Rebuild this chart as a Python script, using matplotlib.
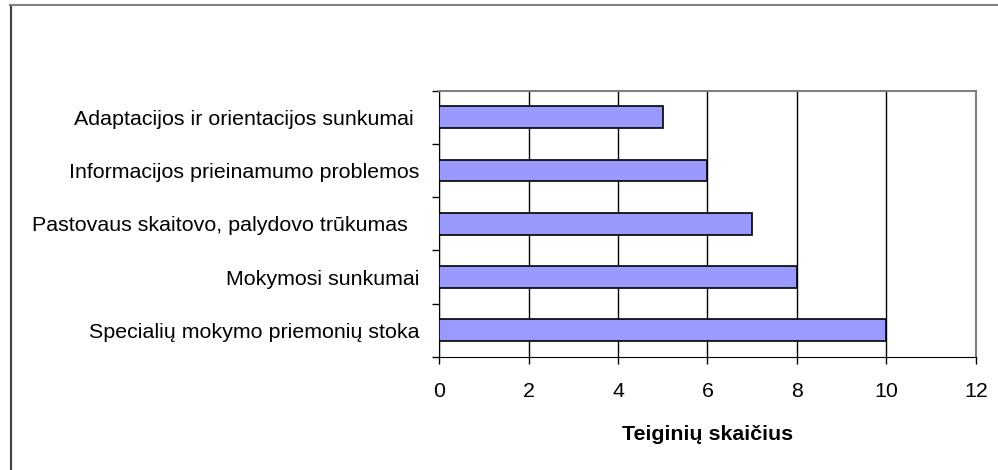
import matplotlib.pyplot as plt
from matplotlib.lines import Line2D

categories = [
    "Specialių mokymo priemonių stoka",
    "Mokymosi sunkumai",
    "Pastovaus skaitovo, palydovo trūkumas  ",
    "Informacijos prieinamumo problemos",
    "Adaptacijos ir orientacijos sunkumai ",
]
values = [10, 8, 7, 6, 5]
x_ticks = [0, 2, 4, 6, 8, 10, 12]

plt.rcParams['font.family'] = ['Liberation Sans', 'DejaVu Sans']

fig = plt.figure(figsize=(9.98, 4.7), dpi=100)

# frame around the chart (only left and top edges fall inside the picture)
fig.add_artist(Line2D([10.5 / 998, 10.5 / 998], [0, 465 / 470],
                      transform=fig.transFigure, color='#404040', linewidth=1.5))
fig.add_artist(Line2D([10 / 998, 1], [465 / 470, 465 / 470],
                      transform=fig.transFigure, color='#808080', linewidth=1.5))

ax = fig.add_axes([0.4399, 0.2404, 0.538, 0.567])
pos = range(len(categories))
ax.barh(pos, values, height=0.41, color='#9999FF', edgecolor='black',
        linewidth=1.2, zorder=3)

ax.set_xlim(0, 12)
ax.set_ylim(-0.5, len(categories) - 0.5)
ax.set_xticks(x_ticks)
ax.set_xticklabels([str(t) for t in x_ticks], fontsize=15.4)
ax.xaxis.grid(True, color='black', linewidth=1.0, zorder=0)

# category labels between tick marks at the boundaries
ax.set_yticks([p - 0.5 for p in range(len(categories) + 1)])
ax.set_yticklabels([])
ax.set_yticks(list(pos), minor=True)
ax.set_yticklabels(categories, minor=True, fontsize=15.4)
ax.tick_params(axis='y', which='minor', length=0, pad=14)
ax.tick_params(axis='y', which='major', length=5, width=1)
ax.tick_params(axis='x', length=5, width=1, pad=13)

ax.spines['top'].set_color('#808080')
ax.spines['right'].set_color('#808080')
ax.spines['top'].set_linewidth(1.5)
ax.spines['right'].set_linewidth(1.5)

ax.set_xlabel("Teiginių skaičius", fontsize=15.4, fontweight='bold', labelpad=17)

fig.savefig("out.png", dpi=100)
